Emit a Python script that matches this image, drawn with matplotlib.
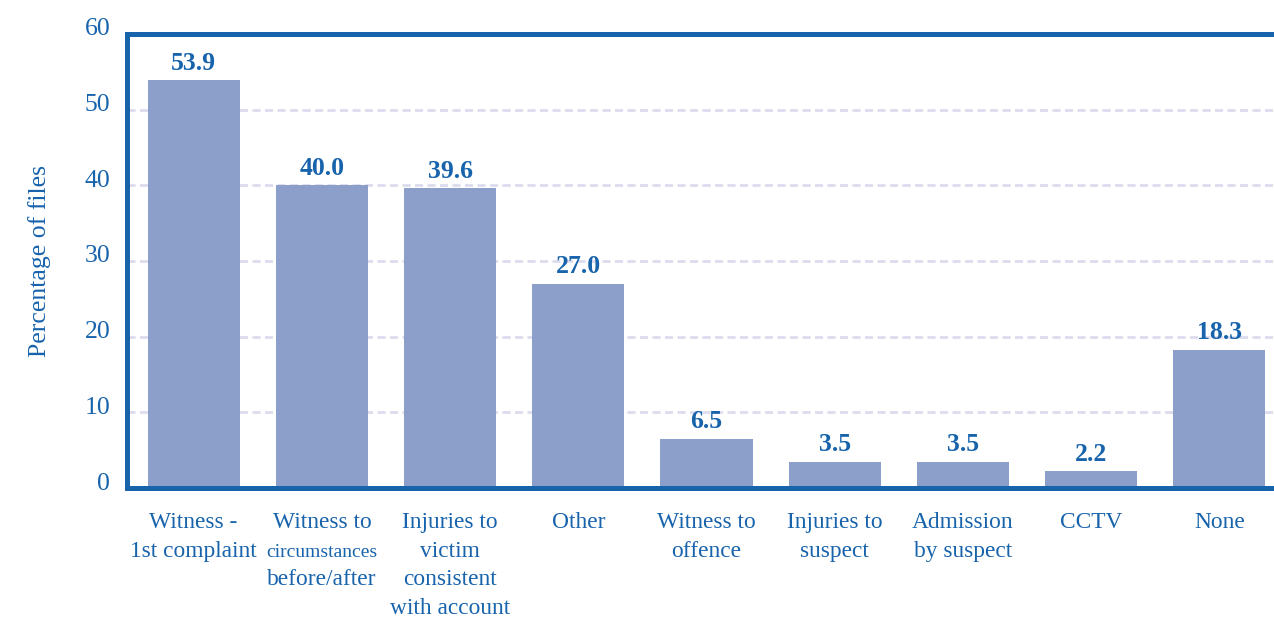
import matplotlib
matplotlib.use("Agg")
import matplotlib.pyplot as plt
import matplotlib.transforms as mtransforms

plt.rcParams['font.family'] = ['Liberation Serif', 'DejaVu Serif']

# Evidence types and share of files (%)
categories = [
    ["Witness -", "1st complaint"],
    ["Witness to", "circumstances", "before/after"],
    ["Injuries to", "victim", "consistent", "with account"],
    ["Other"],
    ["Witness to", "offence"],
    ["Injuries to", "suspect"],
    ["Admission", "by suspect"],
    ["CCTV"],
    ["None"],
]
values = [53.9, 40.0, 39.6, 27.0, 6.5, 3.5, 3.5, 2.2, 18.3]
yticks = [0, 10, 20, 30, 40, 50, 60]

BLUE = "#1763AC"
BAR = "#8C9FCB"
GRID = "#DCDCEE"

fig = plt.figure(figsize=(12.74, 6.18), dpi=100)
W, H = 1274, 618
left_px, right_px, top_px, bot_px = 127, 1286, 34, 488
ax = fig.add_axes([left_px / W, 1 - bot_px / H,
                   (right_px - left_px) / W, (bot_px - top_px) / H])

x = list(range(len(values)))
ax.bar(x, values, width=0.72, color=BAR, zorder=2)
ax.set_xlim(-0.52, len(values) - 1 + 0.52)
ax.set_ylim(0, 60)

# Dashed horizontal grid
for t in yticks[1:-1]:
    ax.axhline(t, color=GRID, lw=2.0, ls=(0, (2.9, 1.6)), zorder=1)

for side in ["left", "top", "bottom", "right"]:
    ax.spines[side].set_color(BLUE)
    ax.spines[side].set_linewidth(3.6)
ax.spines["right"].set_visible(False)

ax.set_yticks(yticks)
ax.set_yticklabels([str(t) for t in yticks], fontsize=18.5, color=BLUE)
ax.tick_params(axis="y", length=0, pad=12)
offset = mtransforms.ScaledTranslation(0, 7 / 100, fig.dpi_scale_trans)
for lab in ax.get_yticklabels():
    lab.set_transform(lab.get_transform() + offset)
ax.set_xticks([])

ax.set_ylabel("Percentage of files", fontsize=18.5, color=BLUE, labelpad=24)

# Value labels above bars
for xi, v in zip(x, values):
    ax.annotate(f"{v:.1f}", (xi, v), xytext=(0, 4), textcoords="offset points",
                ha="center", va="bottom", fontsize=18.5, fontweight="bold",
                color=BLUE)

# Category labels under the axis, one text per line on a common baseline
trans = mtransforms.blended_transform_factory(ax.transData, fig.transFigure)
line_px = 28.6
for xi, lines in zip(x, categories):
    for j, line in enumerate(lines):
        size = 14 if line == "circumstances" else 16.8
        ypx = 528 + j * line_px
        ax.text(xi, 1 - ypx / H, line, transform=trans, ha="center",
                va="baseline", fontsize=size, color=BLUE, clip_on=False)

fig.savefig("out.png", dpi=100)
